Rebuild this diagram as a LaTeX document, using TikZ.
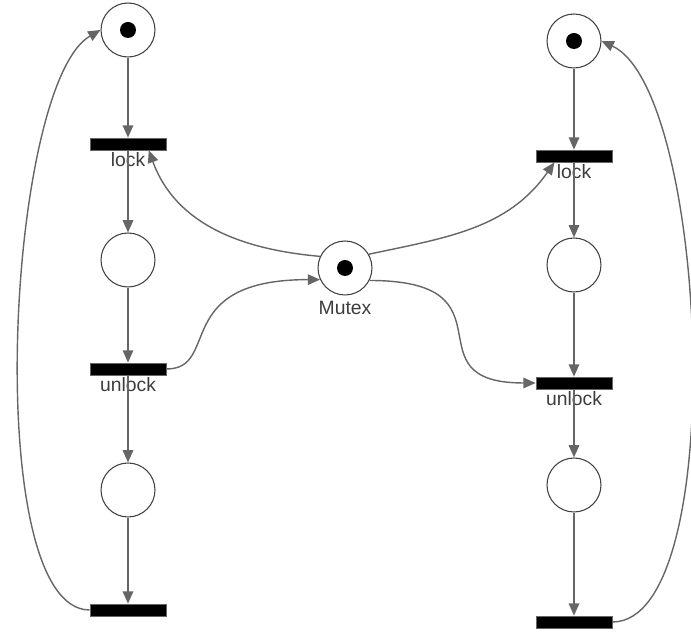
\documentclass[tikz,border=0pt]{standalone}
\usepackage{fontspec}
\setmainfont{Liberation Sans}
\usetikzlibrary{arrows.meta,positioning}
\definecolor{flowgray}{RGB}{102,102,102}
\definecolor{labelgray}{RGB}{60,60,60}

\begin{document}
\begin{tikzpicture}[x=0.02cm, y=0.02cm,
    place/.style={circle, draw=black!75, fill=white, line width=0.6pt, minimum size=1.08cm, inner sep=0pt},
    marked/.style={path picture={\fill[black] (path picture bounding box.center) circle (0.16cm);}},
    transition/.style={rectangle, draw=flowgray, fill=black, minimum width=1.52cm, minimum height=0.24cm, inner sep=0pt},
    lbl/.style={font=\fontsize{11}{13}\selectfont, text=labelgray, inner sep=1pt},
    flow/.style={draw=flowgray, line width=0.8pt, -{Triangle[length=7pt,width=6pt]}}]
    \useasboundingbox (0,0) rectangle (691,632);

    % Left process
    \node[place, marked] (leftIdle) at (128,602) {};
    \node[transition, label={[lbl]below:lock}] (leftLock) at (128,488) {};
    \node[place] (leftCrit) at (128,372) {};
    \node[transition, label={[lbl]below:unlock}] (leftUnlock) at (128,263) {};
    \node[place] (leftDone) at (128,142) {};
    \node[transition] (leftReset) at (128,22) {};

    % Right process
    \node[place, marked] (rightIdle) at (574,591) {};
    \node[transition, label={[lbl]below:lock}] (rightLock) at (574,476) {};
    \node[place] (rightCrit) at (574,367) {};
    \node[transition, label={[lbl]below:unlock}] (rightUnlock) at (574,249) {};
    \node[place] (rightDone) at (574,147) {};
    \node[transition] (rightReset) at (574,10) {};

    % Shared lock
    \node[place, marked, label={[lbl, label distance=2pt]below:Mutex}] (mutex) at (345,364) {};

    % Left column arcs
    \draw[flow] (leftIdle) -- (leftLock);
    \draw[flow] (leftLock) -- (leftCrit);
    \draw[flow] (leftCrit) -- (leftUnlock);
    \draw[flow] (leftUnlock) -- (leftDone);
    \draw[flow] (leftDone) -- (leftReset);
    \draw[flow] (leftReset.west) to[out=180, in=210, looseness=0.48] (leftIdle.west);

    % Right column arcs
    \draw[flow] (rightIdle) -- (rightLock);
    \draw[flow] (rightLock) -- (rightCrit);
    \draw[flow] (rightCrit) -- (rightUnlock);
    \draw[flow] (rightUnlock) -- (rightDone);
    \draw[flow] (rightDone) -- (rightReset);
    \draw[flow] (rightReset.east) to[out=0, in=-25, looseness=0.52] (rightIdle.east);

    % Mutex arcs
    \draw[flow] (mutex.155) to[out=175, in=-70] (leftLock.-17);
    \draw[flow] (mutex.30) to[out=12, in=-125] (rightLock.198);
    \draw[flow] (leftUnlock.east) .. controls +(55,0) and +(-150,0) .. (mutex.205);
    \draw[flow] (mutex.-27) .. controls +(150,0) and +(-130,0) .. (rightUnlock.west);
\end{tikzpicture}
\end{document}
